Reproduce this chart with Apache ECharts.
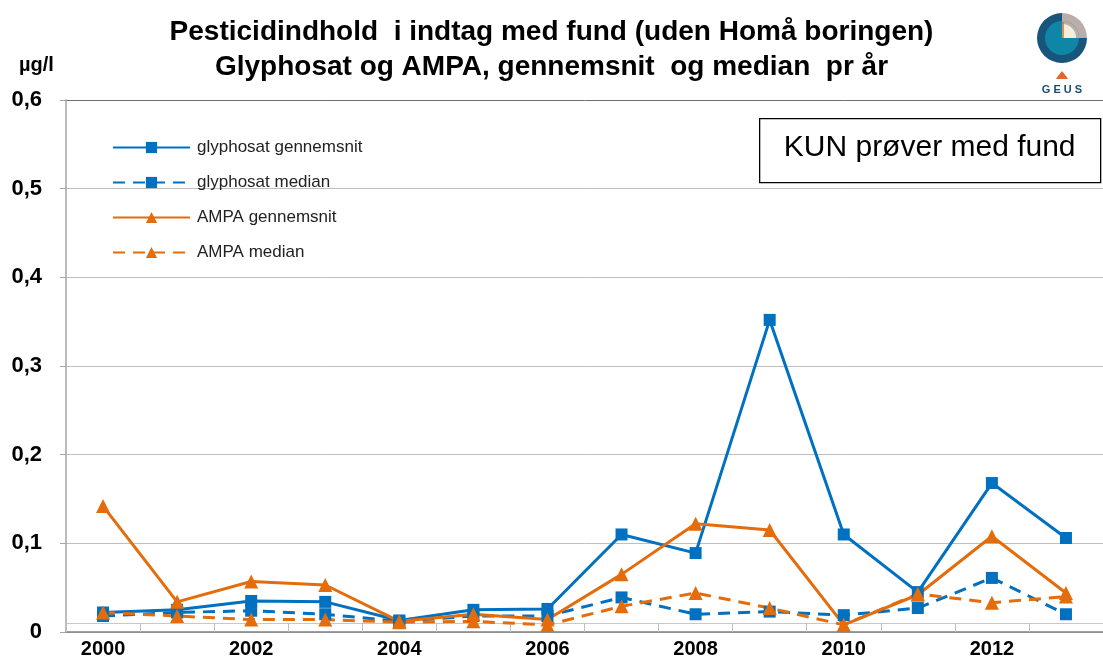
<!DOCTYPE html>
<html>
<head>
<meta charset="utf-8">
<script src="https://cdn.jsdelivr.net/npm/echarts@6/dist/echarts.min.js"></script>
<style>
  html, body { margin: 0; padding: 0; background: #fff; }
  #chart { width: 1103px; height: 659px; }
</style>
</head>
<body>
<div id="chart"></div>
<script>
// Years on the category axis
const years = ['2000','2001','2002','2003','2004','2005','2006','2007','2008','2009','2010','2011','2012','2013'];

// Concentrations in µg/l, samples with finds only
const glyphosatMean   = [0.022, 0.025, 0.035, 0.034, 0.013, 0.025, 0.026, 0.110, 0.089, 0.352, 0.110, 0.045, 0.168, 0.106];
const glyphosatMedian = [0.018, 0.022, 0.024, 0.020, 0.012, 0.018, 0.018, 0.039, 0.020, 0.023, 0.019, 0.027, 0.061, 0.020];
const ampaMean        = [0.142, 0.034, 0.057, 0.053, 0.012, 0.020, 0.014, 0.065, 0.122, 0.115, 0.008, 0.042, 0.108, 0.044];
const ampaMedian      = [0.022, 0.018, 0.014, 0.014, 0.011, 0.012, 0.008, 0.029, 0.044, 0.027, 0.008, 0.043, 0.033, 0.040];

const seriesNames = ['glyphosat gennemsnit', 'glyphosat median', 'AMPA gennemsnit', 'AMPA median'];

const BLUE = '#0070c0';
const ORANGE = '#e46c0a';
const FONT = '"Liberation Sans", Arial, sans-serif';

function lineSeries(name, data, color, symbol, size, dashed) {
  return {
    name: name,
    type: 'line',
    data: data,
    symbol: symbol,
    symbolSize: size,
    showAllSymbol: true,
    xAxisIndex: 0,
    itemStyle: { color: color },
    lineStyle: { color: color, width: 3, type: dashed ? [12, 8] : 'solid' },
    z: 3
  };
}

const chart = echarts.init(document.getElementById('chart'), null, { renderer: 'canvas' });

chart.setOption({
  backgroundColor: '#ffffff',
  animation: false,
  textStyle: { fontFamily: FONT },
  title: [
    {
      text: 'Pesticidindhold  i indtag med fund (uden Homå boringen)\nGlyphosat og AMPA, gennemsnit  og median  pr år',
      left: 'center',
      top: 10,
      textStyle: { fontFamily: FONT, fontSize: 28, fontWeight: 'bold', color: '#000', lineHeight: 35 }
    },
    {
      text: 'µg/l',
      left: 14,
      top: 50,
      textStyle: { fontFamily: FONT, fontSize: 20, fontWeight: 'bold', color: '#000' }
    }
  ],
  legend: {
    orient: 'vertical',
    left: 107,
    top: 134,
    itemWidth: 77,
    itemHeight: 14,
    itemGap: 18,
    data: seriesNames,
    textStyle: { fontFamily: FONT, fontSize: 17, color: '#222', padding: [0, 0, 0, 2] }
  },
  grid: { left: 66, right: -9, top: 100, bottom: 26, containLabel: false },
  xAxis: [
    {
      type: 'category',
      data: years,
      boundaryGap: true,
      axisLine: { show: true, lineStyle: { color: '#808080', width: 1.5 } },
      axisTick: { show: true, inside: true, length: 9, interval: 0, lineStyle: { color: '#bfbfbf' } },
      axisLabel: { interval: 1, margin: 7, fontFamily: FONT, fontSize: 20, fontWeight: 'bold', color: '#000' },
      splitLine: { show: false }
    },
    {
      type: 'category',
      data: years,
      position: 'bottom',
      offset: -9,
      axisLine: { show: true, lineStyle: { color: '#c8c8c8', width: 1 } },
      axisTick: { show: false },
      axisLabel: { show: false },
      splitLine: { show: false }
    }
  ],
  yAxis: {
    type: 'value',
    min: 0,
    max: 0.6,
    interval: 0.1,
    axisLine: { show: true, lineStyle: { color: '#a6a6a6', width: 1.5 } },
    axisTick: { show: true, length: 6, lineStyle: { color: '#a6a6a6' } },
    axisLabel: {
      margin: 24,
      align: 'right',
      fontFamily: FONT,
      fontSize: 22,
      fontWeight: 'bold',
      color: '#000',
      formatter: function (v) { return (Math.round(v * 10) / 10).toString().replace('.', ','); }
    },
    splitLine: {
      show: true,
      lineStyle: { color: ['#bfbfbf', '#bfbfbf', '#bfbfbf', '#bfbfbf', '#bfbfbf', '#bfbfbf', '#6e6e6e'], width: 1 }
    }
  },
  series: [
    lineSeries(seriesNames[0], glyphosatMean, BLUE, 'rect', 12, false),
    lineSeries(seriesNames[1], glyphosatMedian, BLUE, 'rect', 12, true),
    lineSeries(seriesNames[2], ampaMean, ORANGE, 'triangle', 14, false),
    lineSeries(seriesNames[3], ampaMedian, ORANGE, 'triangle', 14, true)
  ],
  graphic: [
    {
      type: 'group',
      left: 759,
      top: 118,
      z: 10,
      children: [
        { type: 'rect', shape: { x: 0, y: 0, width: 341, height: 64 },
          style: { fill: '#fff', stroke: '#000', lineWidth: 1.3 } },
        { type: 'text', x: 170, y: 29,
          style: { text: 'KUN prøver med fund', font: '30px ' + FONT, fill: '#000', align: 'center', verticalAlign: 'middle' } }
      ]
    },
    {
      // GEUS emblem
      type: 'group',
      x: 1062,
      y: 38,
      z: 10,
      children: [
        { type: 'sector', shape: { cx: 0, cy: 0, r: 25, r0: 0, startAngle: 0, endAngle: Math.PI * 1.5, clockwise: true },
          style: { fill: '#17557a' } },
        { type: 'sector', shape: { cx: 0, cy: 0, r: 25, r0: 0, startAngle: -Math.PI / 2, endAngle: 0, clockwise: true },
          style: { fill: '#b9aea9' } },
        { type: 'circle', shape: { cx: 0, cy: 0, r: 17 }, style: { fill: '#0f86a6' } },
        { type: 'sector', shape: { cx: 0, cy: 0, r: 17, r0: 0, startAngle: -Math.PI / 2, endAngle: 0, clockwise: true },
          style: { fill: '#b9aea9' } },
        { type: 'sector', shape: { cx: 0, cy: 0, r: 14, r0: 0, startAngle: -Math.PI / 2, endAngle: 0, clockwise: true },
          style: { fill: '#f4eedb' } },
        { type: 'line', shape: { x1: 1, y1: -16, x2: 1, y2: 0 }, style: { stroke: '#e8642c', lineWidth: 1.5 } },
        { type: 'polygon', shape: { points: [[-4, 38], [0, 33], [4, 38], [6, 41], [-6, 41]] },
          style: { fill: '#e8642c' } },
        { type: 'text', x: 0, y: 52,
          style: { text: 'G E U S', font: 'bold 11px ' + FONT, fill: '#1b4b72', align: 'center', verticalAlign: 'middle' } }
      ]
    }
  ]
});
</script>
</body>
</html>
